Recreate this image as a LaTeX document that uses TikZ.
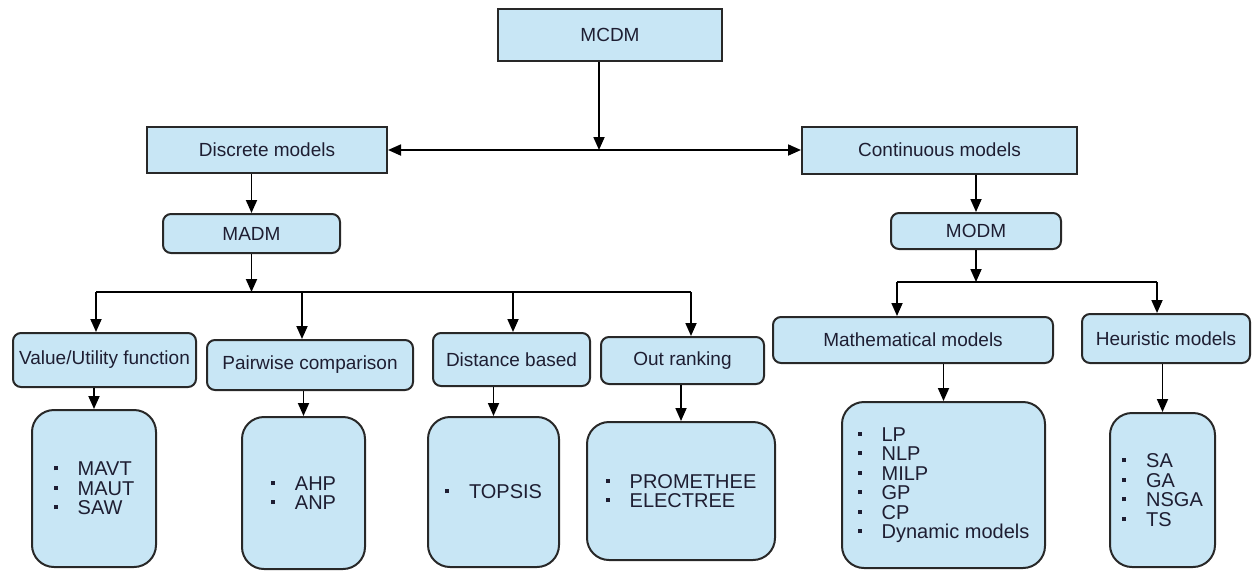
\documentclass[tikz,border=0pt]{standalone}
\usepackage{fontspec}
\setmainfont{Liberation Sans}
\usepackage{tikz}
\usetikzlibrary{arrows.meta,positioning}
\definecolor{boxblue}{RGB}{200,230,245}
\definecolor{edge}{RGB}{40,40,40}
\definecolor{ink}{RGB}{30,30,50}
\tikzstyle{sq}=[draw=edge, fill=boxblue, line width=2pt, text=ink, text centered, inner sep=0pt, font=\fontsize{19}{22}\selectfont]
\tikzstyle{rd}=[sq, rounded corners=8pt]
\tikzstyle{lf}=[sq, rounded corners=22pt, align=left, font=\fontsize{20}{19.5}\selectfont]
\tikzset{>={Triangle[length=13pt,width=11pt]}}
\newcommand{\itm}[1]{\makebox[24pt][l]{\rule[5.5pt]{4pt}{4pt}}#1}

\begin{document}
\begin{tikzpicture}[x=1pt,y=-1pt,line width=1.8pt]
		\useasboundingbox (0,0) rectangle (1252,571);
		% top
		\node[sq, minimum width=224pt, minimum height=52pt] (mcdm) at (610,35) {MCDM};
		\node[sq, minimum width=240pt, minimum height=46pt] (disc) at (267,150) {Discrete models};
		\node[sq, minimum width=275pt, minimum height=47pt] (cont) at (939.5,150) {Continuous models};
		\coordinate (split) at (599,150);
		\draw[<->] (disc.east) -- (cont.west);
		\draw[->] (mcdm.south -| split) -- (split);

		% discrete side
		\node[rd, minimum width=177pt, minimum height=39pt] (madm) at (251.5,233.5) {MADM};
		\draw[->] (disc.south -| madm.north) -- (madm.north);
		\coordinate (madmbar) at (248,292);
		\draw[->] (madm.south) -- (madm.south |- madmbar);

		\node[rd, minimum width=183pt, minimum height=54pt] (value) at (104.5,360) {Value/Utility function};
		\node[rd, minimum width=206pt, minimum height=50pt] (pair) at (310,365) {Pairwise comparison};
		\node[rd, minimum width=157pt, minimum height=53pt] (dist) at (511.5,359.5) {Distance based};
		\node[rd, minimum width=163pt, minimum height=47pt] (outr) at (682.5,360.5) {Out ranking};
		\foreach \n/\dx in {value/-8.5,pair/-8,dist/1.5,outr/8.5}{
			\coordinate (\n-t) at ([xshift=\dx pt]\n.north);
			\draw[->] (\n-t |- madmbar) -- (\n-t);
		}
		\draw (value-t |- madmbar) -- (outr-t |- madmbar);

		\node[lf, minimum width=124pt, minimum height=157pt] (vleaf) at (94,488.5) {\itm{MAVT}\\\itm{MAUT}\\\itm{SAW}};
		\node[lf, minimum width=123pt, minimum height=152pt] (pleaf) at (303.5,493) {\itm{AHP}\\\itm{ANP}};
		\node[lf, minimum width=131pt, minimum height=150pt] (dleaf) at (493.5,492) {\itm{TOPSIS}};
		\node[lf, minimum width=188pt, minimum height=138pt] (oleaf) at (681,491) {\itm{PROMETHEE}\\\itm{ELECTREE}};
		\foreach \n/\l in {value/vleaf,pair/pleaf,dist/dleaf,outr/oleaf}
			\draw[->] (\n.south -| \l.north) -- (\l.north);

		% continuous side
		\node[rd, minimum width=170pt, minimum height=36pt] (modm) at (976,231) {MODM};
		\draw[->] (cont.south -| modm.north) -- (modm.north);
		\coordinate (modmbar) at (978,282);
		\draw[->] (modm.south) -- (modm.south |- modmbar);

		\node[rd, minimum width=280pt, minimum height=46pt] (math) at (913,340) {Mathematical models};
		\node[rd, minimum width=168pt, minimum height=49pt] (heur) at (1166,338.5) {Heuristic models};
		\foreach \n/\dx in {math/-16,heur/-9}{
			\coordinate (\n-t) at ([xshift=\dx pt]\n.north);
			\draw[->] (\n-t |- modmbar) -- (\n-t);
		}
		\draw (math-t |- modmbar) -- (heur-t |- modmbar);

		\node[lf, minimum width=203pt, minimum height=166pt] (mleaf) at (943.5,485) {\itm{LP}\\\itm{NLP}\\\itm{MILP}\\\itm{GP}\\\itm{CP}\\\itm{Dynamic models}};
		\node[lf, minimum width=105pt, minimum height=154pt] (hleaf) at (1162.5,490) {\itm{SA}\\\itm{GA}\\\itm{NSGA}\\\itm{TS}};
		\foreach \n/\l in {math/mleaf,heur/hleaf}
			\draw[->] (\n.south -| \l.north) -- (\l.north);
\end{tikzpicture}
\end{document}
